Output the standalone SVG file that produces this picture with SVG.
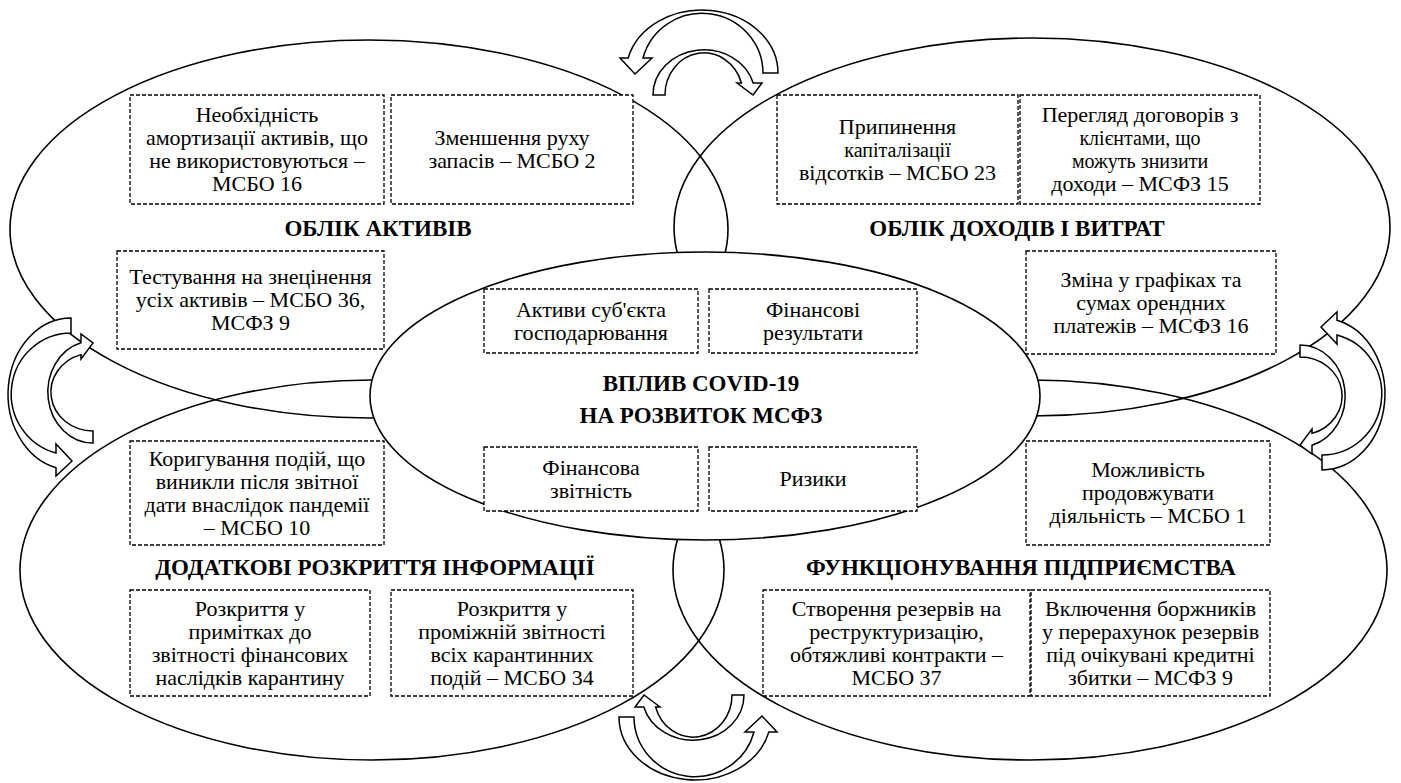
<svg xmlns="http://www.w3.org/2000/svg" xmlns:xlink="http://www.w3.org/1999/xlink" width="1401" height="783" viewBox="0 0 1401 783">
<style>
.ell{fill:none;stroke:#000;stroke-width:1.6}
.cen{fill:#fff;stroke:#000;stroke-width:1.6}
.box{fill:#fff;stroke:#000;stroke-width:1.3;stroke-dasharray:4 2}
.arr{fill:#fff;stroke:#000;stroke-width:1.5;stroke-linejoin:miter}
text{font-family:"Liberation Serif","Times New Roman",serif;text-anchor:middle;fill:#000}
.t{font-size:22px}
.s{font-size:20px}
.h{font-size:23px;font-weight:bold}
</style>
<defs>
<g id="pair">
<path class="arr" d="M 79,21 A 76,63 0 0 0 -70.8,6 L -79,6 L -64,22 L -47,6 L -56,6 A 61,60 0 0 1 64,21 Z"/>
<path class="arr" d="M -46,43 A 51,45 0 0 1 54.2,31 L 63,31 L 54,43 L 38,31 L 42.4,31 A 39,42 0 0 0 -34,43 Z"/>
</g>
</defs>
<rect width="1401" height="783" fill="#fff"/>
<g id="areas">
<ellipse class="ell" cx="369" cy="229" rx="359" ry="189"/>
<ellipse class="ell" cx="1032" cy="227" rx="358" ry="189"/>
<ellipse class="ell" cx="372" cy="570" rx="352" ry="190"/>
<ellipse class="ell" cx="1030" cy="570" rx="357" ry="190"/>
<ellipse class="cen" cx="705" cy="396" rx="335" ry="144"/>
</g>
<g id="connectors">
<use xlink:href="#pair" transform="translate(699,52)"/>
<use xlink:href="#pair" transform="translate(698,738) rotate(180)"/>
<use xlink:href="#pair" transform="translate(50,397) rotate(-90)"/>
<use xlink:href="#pair" transform="translate(1343,391) rotate(90)"/>
</g>
<g id="assets">
<text class="h" x="378" y="236">ОБЛІК АКТИВІВ</text>
<g id="a1"><rect class="box" x="130" y="95" width="254" height="109"/>
<text class="t" x="257" y="122">Необхідність</text><text class="t" x="257" y="145">амортизації активів, що</text><text class="t" x="257" y="168">не використовуються –</text><text class="t" x="257" y="191">МСБО 16</text></g>
<g id="a2"><rect class="box" x="391" y="95" width="242" height="109"/>
<text class="t" x="512" y="145">Зменшення руху</text><text class="t" x="512" y="168">запасів – МСБО 2</text></g>
<g id="a3"><rect class="box" x="117" y="251" width="267" height="98"/>
<text class="t" x="250.5" y="284">Тестування на знецінення</text><text class="t" x="250.5" y="307">усіх активів – МСБО 36,</text><text class="t" x="250.5" y="330">МСФЗ 9</text></g>
</g>
<g id="income">
<text class="h" x="1017" y="236">ОБЛІК ДОХОДІВ І ВИТРАТ</text>
<g id="b1"><rect class="box" x="777" y="95" width="241" height="109"/>
<text class="t" x="897.5" y="133.5">Припинення</text><text class="s" x="897.5" y="156.5">капіталізації</text><text class="t" x="897.5" y="179.5">відсотків – МСБО 23</text></g>
<g id="b2"><rect class="box" x="1020" y="95" width="240" height="109"/>
<text class="t" x="1140" y="122">Перегляд договорів з</text><text class="s" x="1140" y="145">клієнтами, що</text><text class="s" x="1140" y="168">можуть знизити</text><text class="t" x="1140" y="191">доходи – МСФЗ 15</text></g>
<g id="b3"><rect class="box" x="1026" y="251" width="250" height="103"/>
<text class="t" x="1151" y="286.5">Зміна у графіках та</text><text class="t" x="1151" y="309.5">сумах орендних</text><text class="t" x="1151" y="332.5">платежів – МСФЗ 16</text></g>
</g>
<g id="center">
<text class="h" x="701" y="391">ВПЛИВ COVID-19</text>
<text class="h" x="701" y="423">НА РОЗВИТОК МСФЗ</text>
<g id="c1"><rect class="box" x="484" y="289" width="214" height="64"/>
<text class="t" x="591" y="316.5">Активи суб'єкта</text><text class="t" x="591" y="339.5">господарювання</text></g>
<g id="c2"><rect class="box" x="709" y="289" width="208" height="64"/>
<text class="t" x="813" y="316.5">Фінансові</text><text class="t" x="813" y="339.5">результати</text></g>
<g id="c3"><rect class="box" x="484" y="447" width="214" height="64"/>
<text class="t" x="591" y="474.5">Фінансова</text><text class="t" x="591" y="497.5">звітність</text></g>
<g id="c4"><rect class="box" x="709" y="447" width="208" height="64"/>
<text class="t" x="813" y="486">Ризики</text></g>
</g>
<g id="disclosure">
<text class="h" x="375" y="575">ДОДАТКОВІ РОЗКРИТТЯ ІНФОРМАЦІЇ</text>
<g id="d1"><rect class="box" x="130" y="441" width="254" height="104"/>
<text class="t" x="257" y="465.5">Коригування подій, що</text><text class="t" x="257" y="488.5">виникли після звітної</text><text class="t" x="257" y="511.5">дати внаслідок пандемії</text><text class="t" x="257" y="534.5">– МСБО 10</text></g>
<g id="d2"><rect class="box" x="130" y="590" width="240" height="106"/>
<text class="t" x="250" y="615.5">Розкриття у</text><text class="t" x="250" y="638.5">примітках до</text><text class="t" x="250" y="661.5">звітності фінансових</text><text class="t" x="250" y="684.5">наслідків карантину</text></g>
<g id="d3"><rect class="box" x="391" y="590" width="242" height="106"/>
<text class="t" x="512" y="615.5">Розкриття у</text><text class="t" x="512" y="638.5">проміжній звітності</text><text class="t" x="512" y="661.5">всіх карантинних</text><text class="t" x="512" y="684.5">подій – МСБО 34</text></g>
</g>
<g id="operation">
<text class="h" x="1021" y="575">ФУНКЦІОНУВАННЯ ПІДПРИЄМСТВА</text>
<g id="e1"><rect class="box" x="1026" y="441" width="244" height="104"/>
<text class="t" x="1148" y="477">Можливість</text><text class="t" x="1148" y="500">продовжувати</text><text class="t" x="1148" y="523">діяльність – МСБО 1</text></g>
<g id="e2"><rect class="box" x="763" y="590" width="267" height="106"/>
<text class="t" x="896.5" y="615.5">Створення резервів на</text><text class="t" x="896.5" y="638.5">реструктуризацію,</text><text class="t" x="896.5" y="661.5">обтяжливі контракти –</text><text class="t" x="896.5" y="684.5">МСБО 37</text></g>
<g id="e3"><rect class="box" x="1031" y="590" width="239" height="106"/>
<text class="t" x="1150.5" y="615.5">Включення боржників</text><text class="t" x="1150.5" y="638.5">у перерахунок резервів</text><text class="t" x="1150.5" y="661.5">під очікувані кредитні</text><text class="t" x="1150.5" y="684.5">збитки – МСФЗ 9</text></g>
</g>
</svg>
